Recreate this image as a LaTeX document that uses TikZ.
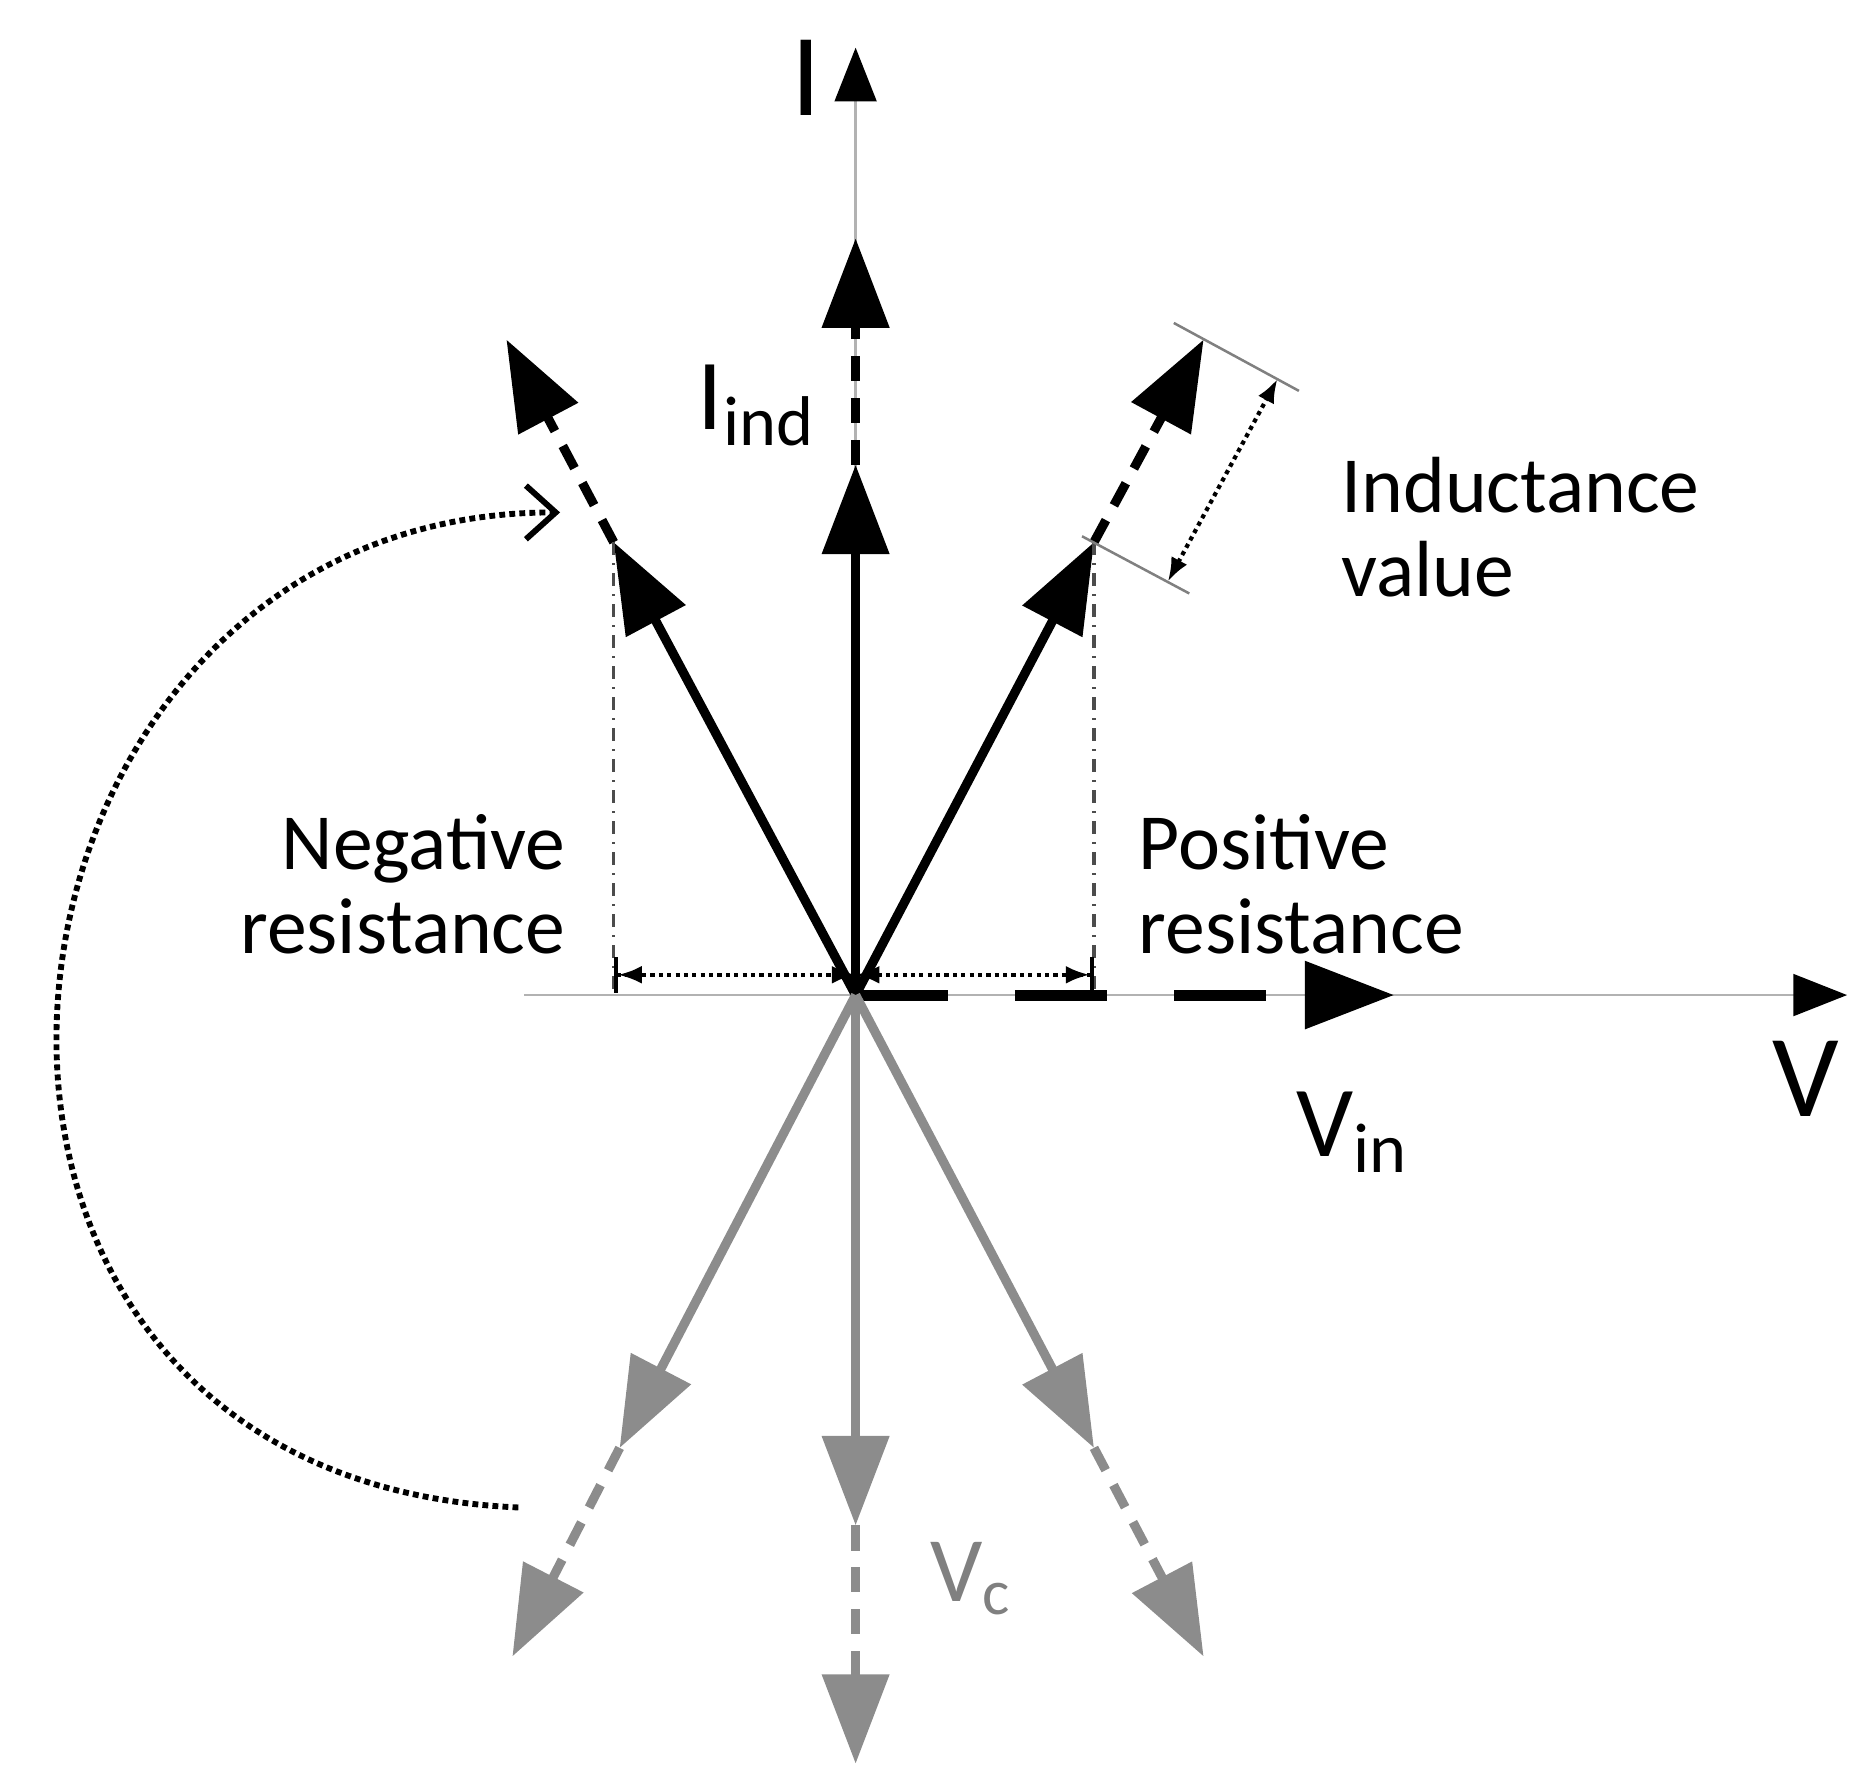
\documentclass[tikz,border=0pt]{standalone}
\usepackage{fontspec}
\setmainfont{Carlito}
\usetikzlibrary{arrows.meta,calc}
\tikzset{
  big/.style={-{Triangle[length=0.75cm,width=0.55cm]}},
  vec/.style={big,line width=2.2pt},
  gvec/.style={vec,draw=gray!90,color=gray!90},
  dvec/.style={vec,dash pattern=on 6pt off 4pt},
  gdvec/.style={gvec,dash pattern=on 6pt off 4pt},
  axis/.style={draw=gray!60,line width=0.6pt,-{Triangle[length=0.45cm,width=0.35cm,black]}},
  meas/.style={densely dotted,line width=1pt,{Latex[length=0.2cm]}-{Latex[length=0.2cm]}},
  guide/.style={dash dot,line width=0.8pt,gray!60!black},
  lbl/.style={font=\fontsize{19}{20}\selectfont,inner sep=0pt}
}
\begin{document}
\begin{tikzpicture}[x=0.01cm,y=-0.01cm]
    \useasboundingbox (0,0) rectangle (1560,1502);
    \coordinate (O) at (718,835);
    \coordinate (vl) at (440,835);
    \coordinate (vr) at (1550,835);
    \coordinate (it) at (718,40);
    \draw[axis] (vl) -- (vr);
    \draw[axis] (O) -- (it);
    \node[lbl,font=\fontsize{28}{30}\selectfont] (vlab) at (1515,905) {V};
    \node[lbl,font=\fontsize{28}{30}\selectfont] (ilab) at (677,65) {I};
    % input voltage
    \coordinate (vin) at (1170,835);
    \draw[big,line width=2.6pt,dash pattern=on 22pt off 16pt] (O) -- (vin);
    \node[lbl,font=\fontsize{24}{26}\selectfont] (vinlab) at (1135,950) {V\textsubscript{in}};
    % current vectors
    \coordinate (c1) at (718,390); \coordinate (c2) at (718,200);
    \coordinate (r1) at (918,455); \coordinate (r2) at (1010,285);
    \coordinate (l1) at (515,455); \coordinate (l2) at (425,285);
    \draw[vec] (O) -- (c1);
    \draw[dvec] (c1) -- (c2);
    \draw[vec] (O) -- (r1);
    \draw[dvec] (r1) -- (r2);
    \draw[vec] (O) -- (l1);
    \draw[dvec] (l1) -- (l2);
    \node[lbl,font=\fontsize{24}{26}\selectfont] (indlab) at (635,340) {I\textsubscript{ind}};
    % capacitor voltage vectors
    \coordinate (d1) at (520,1215); \coordinate (d2) at (430,1390);
    \coordinate (e1) at (718,1280); \coordinate (e2) at (718,1480);
    \coordinate (f1) at (918,1215); \coordinate (f2) at (1010,1390);
    \draw[gvec] (O) -- (d1);
    \draw[gdvec] (d1) -- (d2);
    \draw[gvec] (O) -- (e1);
    \draw[gdvec] (e1) -- (e2);
    \draw[gvec] (O) -- (f1);
    \draw[gdvec] (f1) -- (f2);
    \node[lbl,gray,font=\fontsize{22}{24}\selectfont] (vclab) at (815,1325) {V\textsubscript{c}};
    % resistance projections
    \coordinate (lb) at (515,835); \coordinate (rb) at (918,835);
    \draw[guide] (l1) -- (lb);
    \draw[guide] (r1) -- (rb);
    \draw[meas,{Bar[width=0.3cm]Latex[length=0.2cm]}-{Latex[length=0.2cm]}] ($(lb)+(0,-17)$) -- ($(O)+(0,-17)$);
    \draw[meas,{Latex[length=0.2cm]}-{Latex[length=0.2cm]Bar[width=0.3cm]}] ($(O)+(0,-17)$) -- ($(rb)+(0,-17)$);
    \node[lbl,align=right,anchor=north east] (neglab) at (475,683) {Negative\\resistance};
    \node[lbl,align=left,anchor=north west] (poslab) at (955,683) {Positive\\resistance};
    % inductance value
    \draw[gray,line width=0.6pt] ($(r1)+(-10,-5)$) -- ($(r1)+(80,43)$);
    \draw[gray,line width=0.6pt] ($(r2)+(-25,-14)$) -- ($(r2)+(80,43)$);
    \draw[meas] ($(r1)+(62,33)$) -- ($(r2)+(62,33)$);
    \node[lbl,align=left,anchor=north west] (indval) at (1125,383) {Inductance\\value};
    % rotation
    \coordinate (rs) at (435,1265); \coordinate (re) at (470,430);
    \draw[densely dotted,line width=1.4pt,-{Straight Barb[length=0.25cm,width=0.45cm]}] (rs) .. controls (-130,1240) and (-40,430) .. (re);
\end{tikzpicture}
\end{document}
